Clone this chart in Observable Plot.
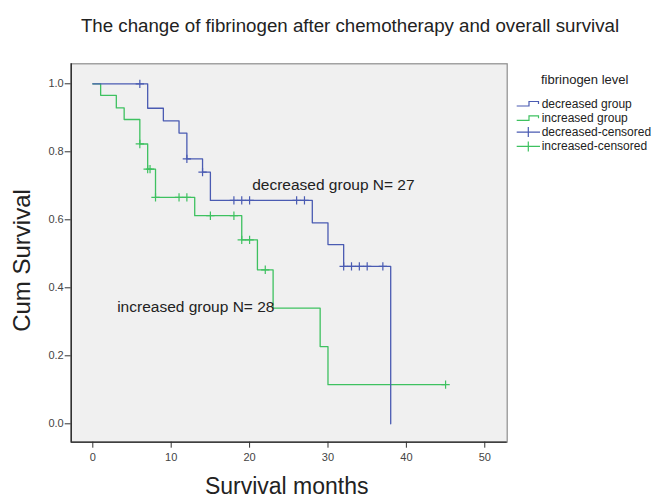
<!DOCTYPE html>
<html>
<head>
<meta charset="utf-8">
<script src="https://cdn.jsdelivr.net/npm/d3@7"></script>
<script src="https://cdn.jsdelivr.net/npm/@observablehq/plot@0.6"></script>
<style>
  body { margin: 0; background: #fff; }
  #wrap { position: relative; width: 660px; height: 499px; overflow: hidden; background: #fff; }
</style>
</head>
<body>
<div id="wrap"></div>
<script>
// ---- data ----
const groups = ["decreased group", "increased group"];
const groupN = [27, 28];

// Kaplan-Meier steps: time (months) and cumulative survival after each step
const decTimes = [0, 7, 9, 11, 12, 14, 15, 28, 30, 32, 38];
const decSurv  = [1.0, 0.928, 0.891, 0.855, 0.779, 0.740, 0.657, 0.591, 0.527, 0.463, 0.0];
const decCensored = [6, 12, 14, 18, 19, 20, 26, 27, 32, 33, 34, 35, 37];

const incTimes = [0, 1, 3, 4, 6, 7, 8, 13, 19, 21, 23, 29, 30, 45];
const incSurv  = [1.0, 0.966, 0.929, 0.895, 0.823, 0.749, 0.666, 0.612, 0.541, 0.453, 0.340, 0.227, 0.115, 0.115];
const incCensored = [6, 7, 7.3, 8, 11, 12, 15, 18, 19, 20, 22, 45];

const xTicks = [0, 10, 20, 30, 40, 50];
const yTicks = [0.0, 0.2, 0.4, 0.6, 0.8, 1.0];

// annotation anchor points (data units)
const annoX = [20.33, 3.11];
const annoY = [0.703, 0.343];

const legendTitle = "fibrinogen level";
const legendItems = ["decreased group", "increased group", "decreased-censored", "increased-censored"];
const legendKinds = ["line", "line", "censor", "censor"];

const chartTitle = "The change of fibrinogen after chemotherapy and overall survival";
const xLabel = "Survival months";
const yLabel = "Cum Survival";

// ---- styles ----
const BLUE = "#4a5bb2";
const GREEN = "#3ec160";
const FONT = '"Liberation Sans", Arial, Helvetica, sans-serif';
const legendColors = [BLUE, GREEN, BLUE, GREEN];
const xDomain = [-2.755, 52.86];
const yDomain = [-0.0541, 1.0588];

// ---- derived tables ----
function survAt(times, surv, t) {
  let s = surv[0];
  for (let i = 0; i < times.length; i++) if (times[i] <= t) s = surv[i];
  return s;
}
const decData = decTimes.map((t, i) => ({t, s: decSurv[i], g: groups[0]}));
const incData = incTimes.map((t, i) => ({t, s: incSurv[i], g: groups[1]}));
const cens = [
  ...incCensored.map(t => ({t, s: survAt(incTimes, incSurv, t), g: groups[1]})),
  ...decCensored.map(t => ({t, s: survAt(decTimes, decSurv, t), g: groups[0]}))
];
const annos = groups.map((g, i) => ({x: annoX[i], y: annoY[i], text: `${g} N= ${groupN[i]}`}));

const chart = Plot.plot({
  width: 660,
  height: 499,
  marginLeft: 70.7,
  marginRight: 153.3,
  marginTop: 63.3,
  marginBottom: 57.3,
  style: {fontFamily: FONT, fontSize: "11px", color: "#444", background: "transparent"},
  x: {domain: xDomain},
  y: {domain: yDomain},
  color: {domain: groups, range: [BLUE, GREEN]},
  marks: [
    Plot.frame({fill: "#f0f0f0", stroke: "#8c8c8c", strokeWidth: 1.2}),
    Plot.ruleX([xDomain[0]], {stroke: "#1e1e1e", strokeWidth: 1.3}),
    Plot.ruleY([yDomain[0]], {stroke: "#1e1e1e", strokeWidth: 1.3}),
    Plot.axisX({ticks: xTicks, tickSize: 6, tickPadding: 4.5, label: null, tickFormat: d => String(d), stroke: "#333"}),
    Plot.axisY({ticks: yTicks, tickSize: 6, tickPadding: 1.5, label: null, tickFormat: d3.format(".1f"), stroke: "#333"}),
    Plot.line(incData, {x: "t", y: "s", stroke: GREEN, curve: "step-after", strokeWidth: 1.3}),
    Plot.line(decData, {x: "t", y: "s", stroke: BLUE, curve: "step-after", strokeWidth: 1.3}),
    Plot.dot(cens, {x: "t", y: "s", stroke: "g", symbol: "plus", r: 2.8, strokeWidth: 1.2}),
    Plot.text(annos, {x: "x", y: "y", text: "text", textAnchor: "start", fontSize: 15.5, fill: "#222"})
  ]
});
chart.style.position = "absolute";
chart.style.left = "0px";
chart.style.top = "0px";
const wrap = document.getElementById("wrap");
wrap.append(chart);

// ---- overlay: title, axis titles, legend ----
const ov = d3.create("svg")
  .attr("width", 660).attr("height", 499)
  .style("position", "absolute").style("left", "0px").style("top", "0px")
  .style("pointer-events", "none")
  .style("font-family", FONT);

ov.append("text").attr("x", 350).attr("y", 31.7).attr("text-anchor", "middle")
  .attr("font-size", 18.7).attr("fill", "#222").text(chartTitle);
ov.append("text").attr("x", 286.7).attr("y", 493.5).attr("text-anchor", "middle")
  .attr("font-size", 23).attr("fill", "#222").text(xLabel);
ov.append("text").attr("transform", "translate(30,260.5) rotate(-90)").attr("text-anchor", "middle")
  .attr("font-size", 24).attr("fill", "#222").text(yLabel);

ov.append("text").attr("x", 584.7).attr("y", 84).attr("text-anchor", "middle")
  .attr("font-size", 13).attr("fill", "#222").text(legendTitle);
const baselines = legendItems.map((_, i) => 107.5 + i * 14.3);
legendItems.forEach((label, i) => {
  const b = baselines[i];
  const c = legendColors[i];
  if (legendKinds[i] === "line") {
    ov.append("path")
      .attr("d", `M516.7,${b - 1.5}H529V${b - 6}H538.5V${b - 3.5}`)
      .attr("fill", "none").attr("stroke", c).attr("stroke-width", 1.2);
  } else {
    ov.append("path")
      .attr("d", `M516.7,${b - 4}H540M528.3,${b - 9}V${b + 1}`)
      .attr("fill", "none").attr("stroke", c).attr("stroke-width", 1.2);
  }
  ov.append("text").attr("x", 541.7).attr("y", b).attr("font-size", 12).attr("fill", "#222").text(label);
});
wrap.append(ov.node());
</script>
</body>
</html>
